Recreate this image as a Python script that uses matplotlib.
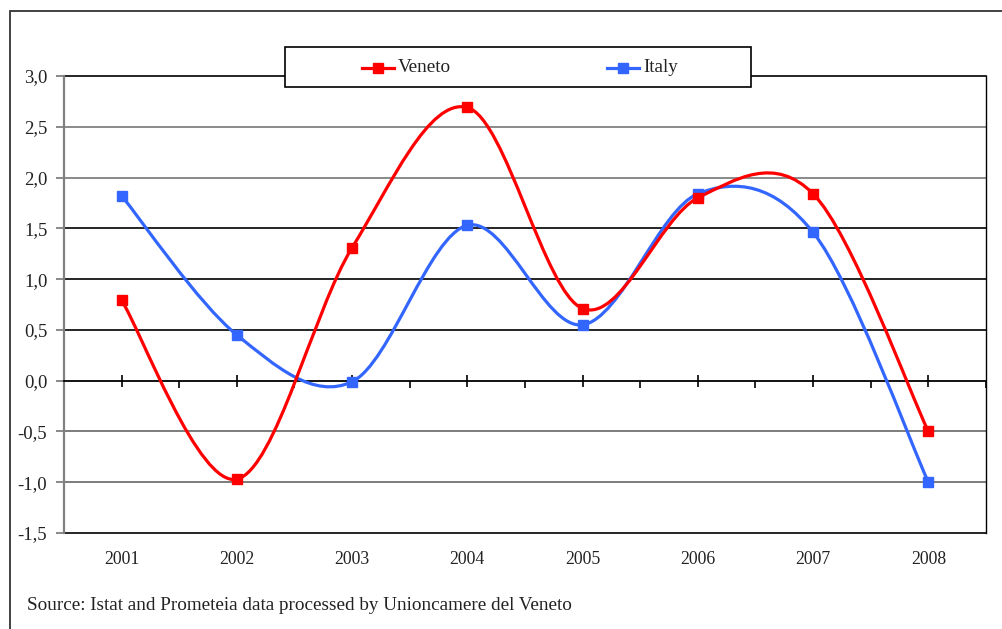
import matplotlib
matplotlib.use("Agg")
import matplotlib.pyplot as plt
from matplotlib.path import Path
from matplotlib.patches import PathPatch, Rectangle
from matplotlib.lines import Line2D
from matplotlib.transforms import blended_transform_factory

years = ["2001", "2002", "2003", "2004", "2005", "2006", "2007", "2008"]
veneto = [0.79, -0.97, 1.31, 2.69, 0.71, 1.80, 1.84, -0.50]
italy = [1.82, 0.45, -0.01, 1.53, 0.55, 1.84, 1.46, -1.00]
y_ticks = [-1.5, -1.0, -0.5, 0.0, 0.5, 1.0, 1.5, 2.0, 2.5, 3.0]
source_text = "Source: Istat and Prometeia data processed by Unioncamere del Veneto"

RED = "#FF0000"
BLUE = "#3366FF"
FONT = "Liberation Serif"

W, H = 1003, 629
fig = plt.figure(figsize=(W / 100, H / 100), dpi=100)
fig.patch.set_facecolor("white")

def fx(px):
    return px / W

def fy(py):
    return 1 - py / H

# outer frame
fig.add_artist(Rectangle((fx(10), fy(700)), fx(1100), fy(11) - fy(700),
                         transform=fig.transFigure, fill=False,
                         edgecolor="#333333", linewidth=1.3))

ax = fig.add_axes([fx(64), fy(533), fx(986) - fx(64), fy(76) - fy(533)])
ax.set_xlim(-0.5, len(years) - 0.5)
ax.set_ylim(y_ticks[0], y_ticks[-1])

# horizontal gridlines
grid_colors = {-1.5: "#000000", -1.0: "#666666", -0.5: "#666666", 0.5: "#000000",
               1.0: "#000000", 1.5: "#000000", 2.0: "#777777", 2.5: "#777777",
               3.0: "#000000"}
for v in y_ticks:
    if v == 0.0:
        continue
    ax.axhline(v, color=grid_colors[v], linewidth=1.2, zorder=1, clip_on=False)

for s in ["top"]:
    ax.spines[s].set_visible(False)
ax.spines["right"].set_color("black")
ax.spines["right"].set_linewidth(1.0)
ax.spines["left"].set_color("#808080")
ax.spines["left"].set_linewidth(1.6)
ax.spines["left"].set_zorder(2)
ax.spines["bottom"].set_position(("data", 0))
ax.spines["bottom"].set_color("black")
ax.spines["bottom"].set_linewidth(1.3)

ax.set_yticks(y_ticks)
ax.set_yticklabels([f"{v:.1f}".replace(".", ",") for v in y_ticks],
                   fontfamily=FONT, fontsize=13.5, color="#222222")
ax.tick_params(axis="y", direction="out", length=6, width=1.3, color="#808080", pad=6)

ax.set_xticks(range(len(years)))
ax.set_xticks([i - 0.5 for i in range(len(years) + 1)], minor=True)
ax.tick_params(axis="x", which="major", direction="inout", length=9, width=1.2,
               color="black", labelbottom=False)
ax.tick_params(axis="x", which="minor", direction="out", length=5, width=1.2,
               color="black")

trans = blended_transform_factory(ax.transData, ax.transAxes)
for i, y in enumerate(years):
    ax.text(i, -0.059, y, transform=trans, ha="center", va="center",
            fontfamily=FONT, fontsize=12.8, color="#222222")


def smooth_path(xs, ys):
    pts = list(zip(xs, ys))
    n = len(pts)
    verts = [pts[0]]
    codes = [Path.MOVETO]
    for i in range(n - 1):
        p0 = pts[i - 1] if i > 0 else pts[i]
        p1 = pts[i]
        p2 = pts[i + 1]
        p3 = pts[i + 2] if i + 2 < n else pts[i + 1]
        c1 = (p1[0] + (p2[0] - p0[0]) / 6, p1[1] + (p2[1] - p0[1]) / 6)
        c2 = (p2[0] - (p3[0] - p1[0]) / 6, p2[1] - (p3[1] - p1[1]) / 6)
        verts += [c1, c2, p2]
        codes += [Path.CURVE4] * 3
    return Path(verts, codes)

xs = list(range(len(years)))
for data, col in [(italy, BLUE), (veneto, RED)]:
    ax.add_patch(PathPatch(smooth_path(xs, data), facecolor="none", edgecolor=col,
                           linewidth=2.3, zorder=3, capstyle="round"))
for data, col in [(italy, BLUE), (veneto, RED)]:
    ax.plot(xs, data, linestyle="none", marker="s", markersize=7.2, color=col, zorder=4)

# legend box (manual)
fig.add_artist(Rectangle((fx(285), fy(87)), fx(751) - fx(285), fy(47) - fy(87),
                         transform=fig.transFigure, facecolor="white",
                         edgecolor="black", linewidth=1.2, zorder=5))
for name, col, x0 in [("Veneto", RED, 362), ("Italy", BLUE, 607)]:
    fig.add_artist(Line2D([fx(x0), fx(x0 + 32)], [fy(68), fy(68)],
                          transform=fig.transFigure, color=col, linewidth=2.3, zorder=6))
    fig.add_artist(Line2D([fx(x0 + 16)], [fy(68)], transform=fig.transFigure,
                          marker="s", markersize=7.2, color=col, zorder=7))
    fig.text(fx(x0 + 36), fy(68), name, ha="left", va="center",
             fontfamily=FONT, fontsize=13.8, color="#222222", zorder=7)

fig.text(fx(27), fy(605), source_text, ha="left", va="center",
         fontfamily=FONT, fontsize=13.8, color="#222222")

fig.savefig("out.png", dpi=100, facecolor="white")
